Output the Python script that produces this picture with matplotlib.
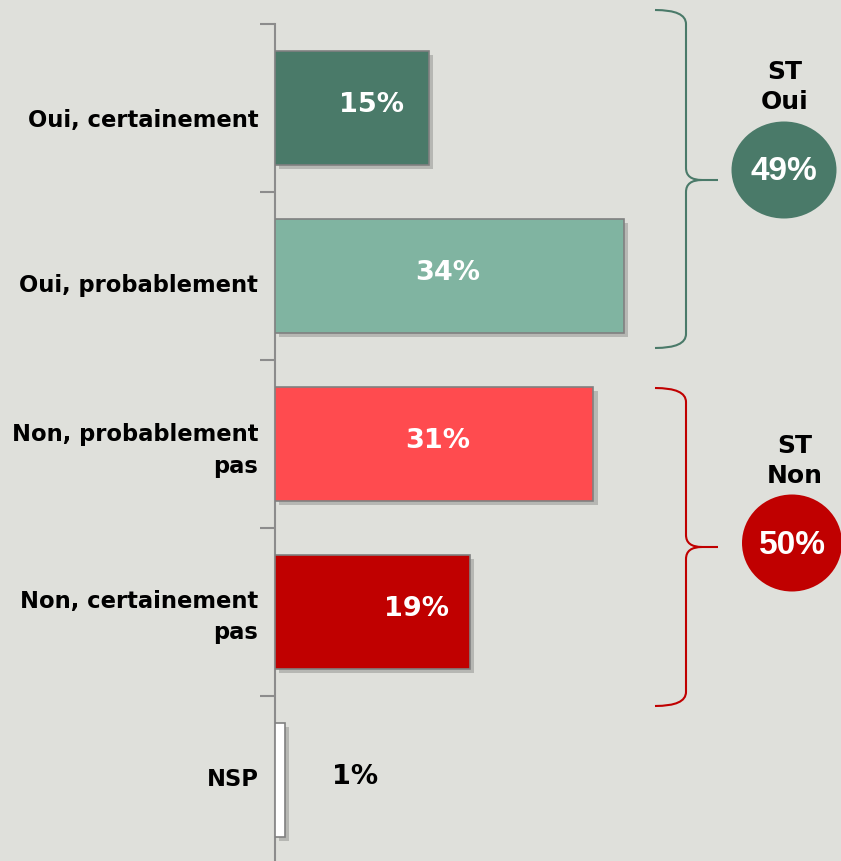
import numpy as np
import matplotlib.pyplot as plt
import matplotlib.patheffects as pe
from matplotlib.path import Path
from matplotlib.patches import PathPatch, Ellipse

# ------------------------------------------------------------
# Data
# ------------------------------------------------------------
categories = ["Oui, certainement", "Oui, probablement",
              "Non, probablement\npas", "Non, certainement\npas", "NSP"]
values = [15, 34, 31, 19, 1]
value_labels = ["15%", "34%", "31%", "19%", "1%"]
bar_colors = ["#4a7a69", "#80b4a1", "#ff4b4f", "#c00000", "#ffffff"]
label_colors = ["white", "white", "white", "white", "black"]
label_x = [9.4, 16.8, 15.8, 13.8, 7.8]      # where each value label sits
cat_offset = [0.06, 0.04, 0.0, -0.01, -0.02]  # small vertical nudges of the category text

group_names = ["ST\nOui", "ST\nNon"]
group_values = ["49%", "50%"]
group_colors = ["#4a7a69", "#c00000"]

BG = "#dfe0db"
W, H = 841, 861

fig = plt.figure(figsize=(W / 100, H / 100), dpi=100, facecolor=BG)
ax = fig.add_axes([275 / W, 1 - 864 / H, 1 - 275 / W, 840 / H])
ax.set_facecolor(BG)

ypos = np.arange(len(categories))
shadow = [pe.SimplePatchShadow(offset=(3, -3), shadow_rgbFace="black", alpha=0.18),
          pe.Normal()]
bars = ax.barh(ypos, values, height=0.68, color=bar_colors,
               edgecolor="#808080", linewidth=1.2, zorder=3)
for b in bars:
    b.set_path_effects(shadow)

for y, x, txt, c in zip(ypos, label_x, value_labels, label_colors):
    ax.text(x, y - 0.02, txt, ha="center", va="center", color=c,
            fontsize=19.5, fontweight="bold", family="DejaVu Sans", zorder=4)

ax.set_xlim(0, 566 / 10.27)
ax.set_ylim(len(categories) - 0.5, -0.5)

# boundary ticks (major) and category labels (minor)
ax.set_yticks(np.arange(len(categories)) - 0.5)
ax.set_yticklabels([])
ax.set_yticks(ypos + np.array(cat_offset), categories, minor=True)
ax.tick_params(axis="y", which="major", length=11, width=1.5, color="#8c8c8c")
ax.tick_params(axis="y", which="minor", length=0, pad=12)
for t in ax.get_yticklabels(minor=True):
    t.set_fontsize(16.3)
    t.set_fontweight("bold")
    t.set_family("DejaVu Sans")
    t.set_linespacing(1.45)
ax.set_xticks([])
for s in ["top", "right", "bottom"]:
    ax.spines[s].set_visible(False)
ax.spines["left"].set_color("#8c8c8c")
ax.spines["left"].set_linewidth(1.5)


# ------------------------------------------------------------
# Brackets + summary circles (pixel layout)
# ------------------------------------------------------------
def px(x, y):
    return (x / W, 1 - y / H)


def bracket(top, tip, bottom, color):
    verts = [px(655, top), px(686, top), px(686, top + 14),
             px(686, tip - 12),
             px(686, tip), px(702, tip),
             px(718, tip),
             px(702, tip), px(686, tip), px(686, tip + 12),
             px(686, bottom - 14),
             px(686, bottom), px(655, bottom)]
    codes = [Path.MOVETO, Path.CURVE3, Path.CURVE3,
             Path.LINETO,
             Path.CURVE3, Path.CURVE3,
             Path.LINETO,
             Path.MOVETO, Path.CURVE3, Path.CURVE3,
             Path.LINETO,
             Path.CURVE3, Path.CURVE3]
    fig.patches.append(PathPatch(Path(verts, codes), facecolor="none",
                                 edgecolor=color, linewidth=1.5,
                                 transform=fig.transFigure))


bracket(10, 180, 348, group_colors[0])
bracket(388, 547, 706, group_colors[1])

circles = [(784, 170, 105, 97), (792, 543, 100, 97)]
titles_xy = [(785, 87), (795, 461)]
for (cx, cy, w, h), (tx, ty), name, val, col in zip(circles, titles_xy, group_names,
                                                   group_values, group_colors):
    fig.patches.append(Ellipse(px(cx, cy), w / W, h / H, facecolor=col,
                               edgecolor="none", transform=fig.transFigure))
    fig.text(*px(cx, cy + 2), val, ha="center", va="center", color="white",
             fontsize=24, fontweight="bold", family="Liberation Sans")
    fig.text(*px(tx, ty), name, ha="center", va="center", color="black",
             fontsize=18, fontweight="bold", family="DejaVu Sans",
             linespacing=1.3)

fig.savefig("out.png", dpi=100, facecolor=BG)
